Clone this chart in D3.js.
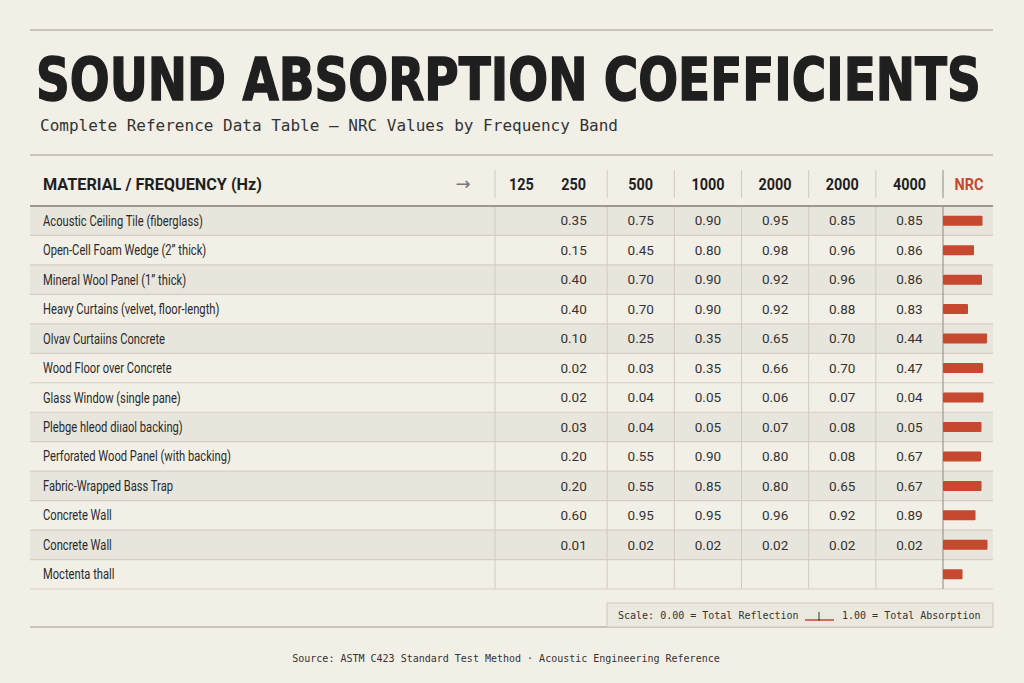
<!DOCTYPE html>
<html>
<head>
<meta charset="utf-8">
<script src="https://cdn.jsdelivr.net/npm/d3@7/dist/d3.min.js"></script>
<style>
  body { margin: 0; background: #f2efe7; }
  svg { display: block; }
</style>
</head>
<body>
<div id="chart"></div>
<script>
// data
var materials = [
  "Acoustic Ceiling Tile (fiberglass)",
  "Open-Cell Foam Wedge (2\u201d thick)",
  "Mineral Wool Panel (1\u201d thick)",
  "Heavy Curtains (velvet, floor-length)",
  "Olvav Curtaiins Concrete",
  "Wood Floor over Concrete",
  "Glass Window (single pane)",
  "Plebge hleod di\u0131aol backing)",
  "Perforated Wood Panel (with backing)",
  "Fabric-Wrapped Bass Trap",
  "Concrete Wall",
  "Concrete Wall",
  "Moctenta thall"
];
var freqLabels = ["125", "250", "500", "1000", "2000", "2000", "4000"];
var hz250  = [0.35, 0.15, 0.40, 0.40, 0.10, 0.02, 0.02, 0.03, 0.20, 0.20, 0.60, 0.01, null];
var hz500  = [0.75, 0.45, 0.70, 0.70, 0.25, 0.03, 0.04, 0.04, 0.55, 0.55, 0.95, 0.02, null];
var hz1000 = [0.90, 0.80, 0.90, 0.90, 0.35, 0.35, 0.05, 0.05, 0.90, 0.85, 0.95, 0.02, null];
var hz2000 = [0.95, 0.98, 0.92, 0.92, 0.65, 0.66, 0.06, 0.07, 0.80, 0.80, 0.96, 0.02, null];
var hz2000b = [0.85, 0.96, 0.96, 0.88, 0.70, 0.70, 0.07, 0.08, 0.08, 0.65, 0.92, 0.02, null];
var hz4000 = [0.85, 0.86, 0.86, 0.83, 0.44, 0.47, 0.04, 0.05, 0.67, 0.67, 0.89, 0.02, null];
var nrc    = [0.79, 0.62, 0.78, 0.50, 0.88, 0.80, 0.81, 0.77, 0.76, 0.77, 0.65, 0.89, 0.39];
var stripedRows = [0, 2, 4, 7, 9, 11];

var columns = [hz250, hz500, hz1000, hz2000, hz2000b, hz4000];

var width = 1024;
var height = 683;
var left = 30, right = 993;
var red = "#c5482f";
var condensed = "'DejaVu Sans Condensed', sans-serif";
var sans = "Roboto, 'Liberation Sans', sans-serif";
var mono = "'DejaVu Sans Mono', 'Liberation Mono', monospace";

var svg = d3.select("#chart")
  .append("svg")
  .attr("width", width)
  .attr("height", height);

svg.append("rect")
  .attr("width", width)
  .attr("height", height)
  .attr("fill", "#f2efe7");

// squeeze text horizontally, the reference uses a narrow face
function squeeze(sel, factor) {
  sel.each(function() {
    var len = this.getComputedTextLength();
    d3.select(this)
      .attr("textLength", len * factor)
      .attr("lengthAdjust", "spacingAndGlyphs");
  });
}

// scales
var y = d3.scaleBand()
  .domain(d3.range(materials.length))
  .range([206, 589]);

var x = d3.scaleBand()
  .domain(d3.range(columns.length))
  .range([540, 943]);

var bar = d3.scaleLinear()
  .domain([0, 1])
  .range([943, 993]);

// rules
function rule(yPos, x1, x2, color, w) {
  svg.append("line")
    .attr("x1", x1).attr("x2", x2)
    .attr("y1", yPos).attr("y2", yPos)
    .attr("stroke", color)
    .attr("stroke-width", w);
}
rule(30, left, right, "#c8c4ba", 2);
rule(155, left, right, "#c8c4ba", 2);

// title, scaled to the width of the reference
var title = svg.append("text")
  .attr("font-family", condensed)
  .attr("font-weight", "bold")
  .attr("font-size", 59)
  .attr("fill", "#1f1f1f")
  .attr("stroke", "#1f1f1f")
  .attr("stroke-width", 1.4)
  .text("SOUND ABSORPTION COEFFICIENTS");
var titleLen = title.node().getComputedTextLength();
title.attr("transform", "translate(36,100) scale(" + (945 / titleLen) + ",1)");

svg.append("text")
  .attr("x", 40)
  .attr("y", 131)
  .attr("font-family", mono)
  .attr("font-size", 16)
  .attr("fill", "#333")
  .text("Complete Reference Data Table \u2014 NRC Values by Frequency Band");

// row stripes
svg.append("g")
  .selectAll("rect")
  .data(stripedRows)
  .enter()
  .append("rect")
  .attr("x", left)
  .attr("width", right - left)
  .attr("y", d => y(d))
  .attr("height", y.bandwidth())
  .attr("fill", "#e8e5dd");

// row separators
svg.append("g")
  .selectAll("line")
  .data(d3.range(1, materials.length + 1))
  .enter()
  .append("line")
  .attr("x1", left).attr("x2", right)
  .attr("y1", d => y(d) !== undefined ? y(d) : 589)
  .attr("y2", d => y(d) !== undefined ? y(d) : 589)
  .attr("stroke", "#d3cfc6")
  .attr("stroke-width", 1.2);

// column separators
var sepX = [495].concat(d3.range(1, columns.length).map(i => x(i)));
sepX.forEach(function(sx) {
  svg.append("line").attr("x1", sx).attr("x2", sx).attr("y1", 170).attr("y2", 198)
    .attr("stroke", "#cfcbc2");
  svg.append("line").attr("x1", sx).attr("x2", sx).attr("y1", 206).attr("y2", 589)
    .attr("stroke", "#cfcbc2");
});
svg.append("line").attr("x1", 943).attr("x2", 943).attr("y1", 170).attr("y2", 198)
  .attr("stroke", "#9c988f").attr("stroke-width", 1.2);
svg.append("line").attr("x1", 943).attr("x2", 943).attr("y1", 206).attr("y2", 589)
  .attr("stroke", "#9c988f").attr("stroke-width", 1.2);

rule(206, left, right, "#9c988f", 2);

// header
svg.append("text")
  .attr("x", 43)
  .attr("y", 190)
  .attr("textLength", 219)
  .attr("lengthAdjust", "spacingAndGlyphs")
  .attr("font-family", sans)
  .attr("font-weight", "bold")
  .attr("font-size", 17)
  .attr("fill", "#1f1f1f")
  .text("MATERIAL / FREQUENCY (Hz)");

svg.append("text")
  .attr("x", 463)
  .attr("y", 190)
  .attr("text-anchor", "middle")
  .attr("font-family", "'DejaVu Sans', sans-serif")
  .attr("font-size", 18)
  .attr("fill", "#777")
  .text("\u2192");

svg.append("g")
  .selectAll("text")
  .data(freqLabels)
  .enter()
  .append("text")
  .attr("x", (d, i) => i === 0 ? (495 + x(0)) / 2 + 4 : x(i - 1) + x.bandwidth() / 2)
  .attr("y", 190)
  .attr("text-anchor", "middle")
  .attr("font-family", sans)
  .attr("font-weight", "bold")
  .attr("font-size", 16)
  .attr("fill", "#1f1f1f")
  .text(d => d)
  .call(squeeze, 0.9);

svg.append("text")
  .attr("x", 969)
  .attr("y", 190)
  .attr("text-anchor", "middle")
  .attr("font-family", sans)
  .attr("font-weight", "bold")
  .attr("font-size", 16)
  .attr("fill", red)
  .text("NRC")
  .call(squeeze, 0.9);

// material labels
svg.append("g")
  .selectAll("text")
  .data(materials)
  .enter()
  .append("text")
  .attr("x", 43)
  .attr("y", (d, i) => y(i) + y.bandwidth() / 2)
  .attr("dy", "0.35em")
  .attr("font-family", sans)
  .attr("font-size", 14.5)
  .attr("fill", "#2a2a2a")
  .text(d => d)
  .call(squeeze, 0.77);

// values
columns.forEach(function(col, ci) {
  svg.append("g")
    .selectAll("text")
    .data(col.map((v, ri) => ({ v: v, r: ri })).filter(d => d.v !== null))
    .enter()
    .append("text")
    .attr("x", x(ci) + x.bandwidth() / 2)
    .attr("y", d => y(d.r) + y.bandwidth() / 2)
    .attr("dy", "0.35em")
    .attr("text-anchor", "middle")
    .attr("font-family", sans)
    .attr("font-size", 13.5)
    .attr("fill", "#333")
    .text(d => d3.format(".2f")(d.v));
});

// NRC bars
svg.append("g")
  .selectAll("rect")
  .data(nrc)
  .enter()
  .append("rect")
  .attr("x", bar(0))
  .attr("y", (d, i) => y(i) + y.bandwidth() / 2 - 5)
  .attr("width", d => bar(d) - bar(0))
  .attr("height", 10)
  .attr("rx", 1)
  .attr("fill", red);

// bottom rule and legend
rule(627, left, right, "#c8c4ba", 2);

svg.append("rect")
  .attr("x", 607).attr("y", 603)
  .attr("width", 386).attr("height", 24)
  .attr("fill", "#ebe8e0")
  .attr("stroke", "#cdc9bf");

svg.append("text")
  .attr("x", 618).attr("y", 619)
  .attr("font-family", mono).attr("font-size", 10).attr("fill", "#333")
  .text("Scale: 0.00 = Total Reflection");

svg.append("line")
  .attr("x1", 805).attr("x2", 834).attr("y1", 620).attr("y2", 620)
  .attr("stroke", red).attr("stroke-width", 1.5);
svg.append("line")
  .attr("x1", 819).attr("x2", 819).attr("y1", 612).attr("y2", 621)
  .attr("stroke", "#333").attr("stroke-width", 1);

svg.append("text")
  .attr("x", 842).attr("y", 619)
  .attr("font-family", mono).attr("font-size", 10).attr("fill", "#333")
  .text("1.00 = Total Absorption");

svg.append("text")
  .attr("x", 506).attr("y", 662)
  .attr("text-anchor", "middle")
  .attr("font-family", mono).attr("font-size", 10).attr("fill", "#333")
  .text("Source: ASTM C423 Standard Test Method \u00b7 Acoustic Engineering Reference");
</script>
</body>
</html>
